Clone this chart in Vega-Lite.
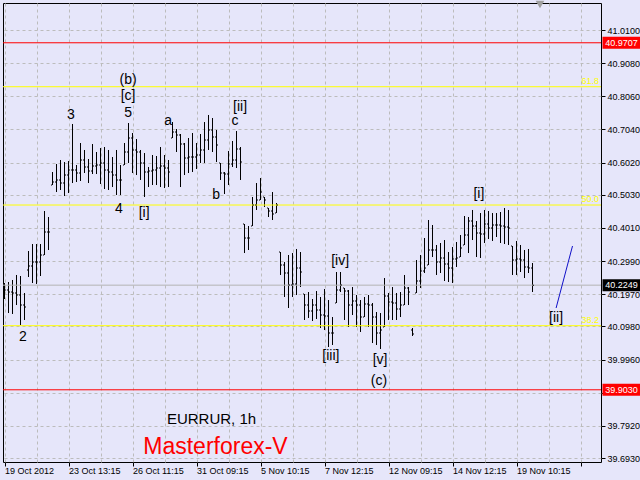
{
  "$schema": "https://vega.github.io/schema/vega-lite/v6.json",
  "width": 598,
  "height": 459,
  "autosize": {"type": "none"},
  "padding": {"left": 3, "top": 3, "right": 39, "bottom": 18},
  "background": "#e6e6fa",
  "config": {
    "view": {"stroke": "#000000", "strokeWidth": 1, "fill": "#e6e6fa"},
    "font": "Liberation Sans",
    "axis": {"labelOverlap": false, "labelFlush": false, "grid": true, "gridColor": "#bcbcbc", "gridDash": [3, 3], "gridWidth": 1, "domain": false, "tickColor": "#000000", "tickSize": 4, "labelFont": "Liberation Sans", "labelFontSize": 9, "labelColor": "#000000"}
  },
  "datasets": {
    "bars": [
      {"i":1,"o":40.2162,"h":40.2315,"l":40.1823,"c":40.2100},
      {"i":2,"o":40.2100,"h":40.2346,"l":40.1392,"c":40.2038},
      {"i":3,"o":40.2038,"h":40.2408,"l":40.1362,"c":40.2008},
      {"i":4,"o":40.2008,"h":40.2562,"l":40.1638,"c":40.1946},
      {"i":5,"o":40.1946,"h":40.2531,"l":40.1023,"c":40.1638},
      {"i":6,"o":40.1638,"h":40.2008,"l":40.1177,"c":40.1577},
      {"i":7,"o":40.2715,"h":40.3300,"l":40.2500,"c":40.2839},
      {"i":8,"o":40.2839,"h":40.3515,"l":40.2315,"c":40.2962},
      {"i":9,"o":40.2962,"h":40.3515,"l":40.2285,"c":40.2962},
      {"i":10,"o":40.2962,"h":40.3515,"l":40.2531,"c":40.3177},
      {"i":11,"o":40.3177,"h":40.4531,"l":40.3177,"c":40.3885},
      {"i":12,"o":40.3885,"h":40.4346,"l":40.3331,"c":40.3885},
      {"i":13,"o":40.5331,"h":40.5731,"l":40.5331,"c":40.5423},
      {"i":14,"o":40.5423,"h":40.5977,"l":40.5115,"c":40.5485},
      {"i":15,"o":40.5485,"h":40.6100,"l":40.5177,"c":40.5392},
      {"i":16,"o":40.5392,"h":40.6038,"l":40.4992,"c":40.5638},
      {"i":17,"o":40.5638,"h":40.6069,"l":40.5085,"c":40.5792},
      {"i":18,"o":40.5792,"h":40.7208,"l":40.5392,"c":40.5792},
      {"i":19,"o":40.5792,"h":40.5946,"l":40.5423,"c":40.5700},
      {"i":20,"o":40.5700,"h":40.6623,"l":40.5454,"c":40.6100},
      {"i":21,"o":40.6100,"h":40.6408,"l":40.5700,"c":40.5885},
      {"i":22,"o":40.5885,"h":40.6131,"l":40.5392,"c":40.5762},
      {"i":23,"o":40.5762,"h":40.6592,"l":40.5669,"c":40.5915},
      {"i":24,"o":40.5915,"h":40.6346,"l":40.5669,"c":40.5946},
      {"i":25,"o":40.5946,"h":40.6469,"l":40.5362,"c":40.6008},
      {"i":26,"o":40.6008,"h":40.6500,"l":40.5208,"c":40.5792},
      {"i":27,"o":40.5792,"h":40.6408,"l":40.5177,"c":40.5731},
      {"i":28,"o":40.5731,"h":40.6192,"l":40.5269,"c":40.5638},
      {"i":29,"o":40.5638,"h":40.6408,"l":40.5023,"c":40.5485},
      {"i":30,"o":40.5485,"h":40.5946,"l":40.5023,"c":40.5485},
      {"i":31,"o":40.5946,"h":40.6623,"l":40.5946,"c":40.6346},
      {"i":32,"o":40.6346,"h":40.7238,"l":40.6008,"c":40.6777},
      {"i":33,"o":40.6777,"h":40.6931,"l":40.5700,"c":40.6408},
      {"i":34,"o":40.6408,"h":40.6746,"l":40.5638,"c":40.6346},
      {"i":35,"o":40.6346,"h":40.6408,"l":40.5485,"c":40.6008},
      {"i":36,"o":40.6008,"h":40.6315,"l":40.4962,"c":40.5731},
      {"i":37,"o":40.5731,"h":40.5885,"l":40.5269,"c":40.5762},
      {"i":38,"o":40.5762,"h":40.6254,"l":40.5331,"c":40.5792},
      {"i":39,"o":40.5792,"h":40.6223,"l":40.5331,"c":40.5854},
      {"i":40,"o":40.5854,"h":40.6500,"l":40.5269,"c":40.5915},
      {"i":41,"o":40.5915,"h":40.6254,"l":40.5238,"c":40.5854},
      {"i":42,"o":40.5854,"h":40.6100,"l":40.5269,"c":40.5731},
      {"i":43,"o":40.6777,"h":40.7269,"l":40.6777,"c":40.6962},
      {"i":44,"o":40.6962,"h":40.7054,"l":40.6346,"c":40.6869},
      {"i":45,"o":40.6869,"h":40.6900,"l":40.5269,"c":40.6592},
      {"i":46,"o":40.6592,"h":40.6623,"l":40.5638,"c":40.6162},
      {"i":47,"o":40.6162,"h":40.6777,"l":40.5700,"c":40.6192},
      {"i":48,"o":40.6192,"h":40.6931,"l":40.5731,"c":40.6192},
      {"i":49,"o":40.6192,"h":40.6623,"l":40.5823,"c":40.6254},
      {"i":50,"o":40.6254,"h":40.6900,"l":40.6008,"c":40.6408},
      {"i":51,"o":40.6408,"h":40.7269,"l":40.6008,"c":40.6715},
      {"i":52,"o":40.6715,"h":40.7485,"l":40.6408,"c":40.7023},
      {"i":53,"o":40.7023,"h":40.7392,"l":40.6346,"c":40.6808},
      {"i":54,"o":40.6808,"h":40.7023,"l":40.6038,"c":40.6562},
      {"i":55,"o":40.6008,"h":40.6008,"l":40.5485,"c":40.5700},
      {"i":56,"o":40.5700,"h":40.5731,"l":40.5054,"c":40.5669},
      {"i":57,"o":40.5669,"h":40.6377,"l":40.5331,"c":40.5977},
      {"i":58,"o":40.5977,"h":40.6685,"l":40.5885,"c":40.6100},
      {"i":59,"o":40.6100,"h":40.6992,"l":40.5854,"c":40.6438},
      {"i":60,"o":40.6438,"h":40.6500,"l":40.5485,"c":40.6038},
      {"i":61,"o":40.4131,"h":40.4131,"l":40.3238,"c":40.3700},
      {"i":62,"o":40.3700,"h":40.4069,"l":40.3331,"c":40.3700},
      {"i":63,"o":40.4069,"h":40.4962,"l":40.4069,"c":40.4715},
      {"i":64,"o":40.4715,"h":40.5392,"l":40.4562,"c":40.4869},
      {"i":65,"o":40.4869,"h":40.5546,"l":40.4869,"c":40.5115},
      {"i":66,"o":40.4962,"h":40.4962,"l":40.4654,"c":40.4869},
      {"i":67,"o":40.4623,"h":40.4623,"l":40.4346,"c":40.4531},
      {"i":68,"o":40.4531,"h":40.5115,"l":40.4254,"c":40.4438},
      {"i":69,"o":40.4469,"h":40.4777,"l":40.4469,"c":40.4715},
      {"i":70,"o":40.3269,"h":40.3269,"l":40.2562,"c":40.2869},
      {"i":71,"o":40.2869,"h":40.2962,"l":40.1885,"c":40.2623},
      {"i":72,"o":40.2623,"h":40.3177,"l":40.1546,"c":40.2254},
      {"i":73,"o":40.2254,"h":40.3238,"l":40.1885,"c":40.2285},
      {"i":74,"o":40.2285,"h":40.3362,"l":40.1946,"c":40.2777},
      {"i":75,"o":40.2777,"h":40.3269,"l":40.2192,"c":40.2654},
      {"i":76,"o":40.1977,"h":40.1977,"l":40.1177,"c":40.1638},
      {"i":77,"o":40.1638,"h":40.2038,"l":40.1239,"c":40.1454},
      {"i":78,"o":40.1454,"h":40.1823,"l":40.1146,"c":40.1638},
      {"i":79,"o":40.1638,"h":40.2069,"l":40.1208,"c":40.1485},
      {"i":80,"o":40.1485,"h":40.1885,"l":40.0931,"c":40.1331},
      {"i":81,"o":40.1331,"h":40.2131,"l":40.0869,"c":40.1300},
      {"i":82,"o":40.1300,"h":40.1792,"l":40.0346,"c":40.0777},
      {"i":83,"o":40.0777,"h":40.1269,"l":40.0408,"c":40.0777},
      {"i":84,"o":40.1700,"h":40.2654,"l":40.1700,"c":40.2100},
      {"i":85,"o":40.2100,"h":40.2654,"l":40.2038,"c":40.2254},
      {"i":86,"o":40.2162,"h":40.2162,"l":40.1177,"c":40.2069},
      {"i":87,"o":40.2069,"h":40.2100,"l":40.0962,"c":40.1638},
      {"i":88,"o":40.1638,"h":40.2192,"l":40.1331,"c":40.1762},
      {"i":89,"o":40.1762,"h":40.1946,"l":40.0962,"c":40.1638},
      {"i":90,"o":40.1638,"h":40.1792,"l":40.0808,"c":40.1269},
      {"i":91,"o":40.1269,"h":40.1885,"l":40.1269,"c":40.1669},
      {"i":92,"o":40.1669,"h":40.1946,"l":40.0962,"c":40.1638},
      {"i":93,"o":40.1638,"h":40.1700,"l":40.0469,"c":40.1269},
      {"i":94,"o":40.1269,"h":40.1423,"l":40.0408,"c":40.0777},
      {"i":95,"o":40.0777,"h":40.1392,"l":40.0285,"c":40.0869},
      {"i":96,"o":40.0962,"h":40.2469,"l":40.0962,"c":40.1915},
      {"i":97,"o":40.1915,"h":40.2008,"l":40.1177,"c":40.1731},
      {"i":98,"o":40.1731,"h":40.2192,"l":40.1177,"c":40.1700},
      {"i":99,"o":40.1700,"h":40.2008,"l":40.1177,"c":40.1515},
      {"i":100,"o":40.1515,"h":40.2038,"l":40.1269,"c":40.1638},
      {"i":101,"o":40.1638,"h":40.2562,"l":40.1638,"c":40.2162},
      {"i":102,"o":40.2162,"h":40.2192,"l":40.1638,"c":40.2038},
      {"i":103,"o":40.0869,"h":40.0931,"l":40.0685,"c":40.0746},
      {"i":104,"o":40.2008,"h":40.3023,"l":40.2008,"c":40.2377},
      {"i":105,"o":40.2377,"h":40.3177,"l":40.2162,"c":40.2685},
      {"i":106,"o":40.2685,"h":40.3700,"l":40.2623,"c":40.2777},
      {"i":107,"o":40.2869,"h":40.4254,"l":40.2869,"c":40.3331},
      {"i":108,"o":40.3331,"h":40.4100,"l":40.3115,"c":40.3331},
      {"i":109,"o":40.3331,"h":40.3485,"l":40.2562,"c":40.2962},
      {"i":110,"o":40.2962,"h":40.3546,"l":40.2623,"c":40.3085},
      {"i":111,"o":40.3085,"h":40.3638,"l":40.2377,"c":40.2900},
      {"i":112,"o":40.2900,"h":40.3269,"l":40.2346,"c":40.2777},
      {"i":113,"o":40.2777,"h":40.3423,"l":40.2315,"c":40.3054},
      {"i":114,"o":40.3054,"h":40.3577,"l":40.2808,"c":40.3085},
      {"i":115,"o":40.3115,"h":40.3792,"l":40.3115,"c":40.3392},
      {"i":116,"o":40.3485,"h":40.4377,"l":40.3485,"c":40.3792},
      {"i":117,"o":40.3792,"h":40.4346,"l":40.3238,"c":40.4223},
      {"i":118,"o":40.4223,"h":40.4562,"l":40.3638,"c":40.4069},
      {"i":119,"o":40.4069,"h":40.4223,"l":40.3115,"c":40.3854},
      {"i":120,"o":40.3854,"h":40.4469,"l":40.3085,"c":40.3823},
      {"i":121,"o":40.3823,"h":40.4562,"l":40.3546,"c":40.4131},
      {"i":122,"o":40.4131,"h":40.4531,"l":40.3669,"c":40.4008},
      {"i":123,"o":40.4008,"h":40.4469,"l":40.3608,"c":40.4100},
      {"i":124,"o":40.4100,"h":40.4469,"l":40.3731,"c":40.4100},
      {"i":125,"o":40.4100,"h":40.4500,"l":40.3546,"c":40.4069},
      {"i":126,"o":40.4069,"h":40.4623,"l":40.3515,"c":40.4038},
      {"i":127,"o":40.4038,"h":40.4562,"l":40.3485,"c":40.4008},
      {"i":128,"o":40.3454,"h":40.3454,"l":40.2562,"c":40.3023},
      {"i":129,"o":40.3023,"h":40.3608,"l":40.2562,"c":40.3054},
      {"i":130,"o":40.3054,"h":40.3485,"l":40.2654,"c":40.3023},
      {"i":131,"o":40.3023,"h":40.3331,"l":40.2469,"c":40.2808},
      {"i":132,"o":40.2808,"h":40.3362,"l":40.2623,"c":40.2777},
      {"i":133,"o":40.2777,"h":40.2931,"l":40.2038,"c":40.2249}
    ],
    "levels": [
      {"kind": "stop", "p": 40.9707},
      {"kind": "stop", "p": 39.9030},
      {"kind": "fib", "p": 40.8355, "label": "61.8"},
      {"kind": "fib", "p": 40.4715, "label": "50.0"},
      {"kind": "fib", "p": 40.1002, "label": "38.2"},
      {"kind": "last", "p": 40.2249}
    ],
    "waves": [
      {"t": "(b)", "i": 31.9, "p": 40.8562},
      {"t": "[c]", "i": 31.9, "p": 40.8069},
      {"t": "5", "i": 31.9, "p": 40.7546},
      {"t": "3", "i": 17.6, "p": 40.7485},
      {"t": "4", "i": 29.6, "p": 40.4592},
      {"t": "[i]", "i": 35.9, "p": 40.4469},
      {"t": "a", "i": 41.9, "p": 40.7300},
      {"t": "b", "i": 53.9, "p": 40.5023},
      {"t": "c", "i": 58.6, "p": 40.7300},
      {"t": "[ii]", "i": 59.9, "p": 40.7731},
      {"t": "2", "i": 5.6, "p": 40.0654},
      {"t": "[iii]", "i": 82.6, "p": 40.0069},
      {"t": "[iv]", "i": 84.9, "p": 40.2992},
      {"t": "[v]", "i": 94.9, "p": 39.9946},
      {"t": "(c)", "i": 94.6, "p": 39.9300},
      {"t": "[i]", "i": 119.6, "p": 40.5054},
      {"t": "[ii]", "i": 138.9, "p": 40.1239}
    ],
    "proj": [
      {"i": 138.9, "p": 40.1546},
      {"i": 143.0, "p": 40.3454}
    ]
  },
  "layer": [
    {
      "data": {"name": "bars"},
      "mark": {"type": "rule", "color": "#000000", "strokeWidth": 1},
      "encoding": {
        "x": {"field": "i", "type": "quantitative", "scale": {"domain": [0.625, 150.125], "nice": false, "zero": false},
          "axis": {"orient": "bottom", "values": [1, 9, 17, 25, 33, 41, 49, 57, 65, 73, 81, 89, 97, 105, 113, 121, 129, 137, 145],
            "tickCount": 100, "title": null, "labelOverlap": false, "labelFlush": false,
            "tickOpacity": {"condition": {"test": "(datum.value - 1) % 16 === 0", "value": 1}, "value": 0},
            "labelExpr": "(datum.value - 1) % 16 === 0 ? ['19 Oct 2012','23 Oct 13:15','26 Oct 11:15','31 Oct 09:15','5 Nov 10:15','7 Nov 12:15','12 Nov 09:15','14 Nov 12:15','19 Nov 10:15',''][(datum.value - 1) / 16] : ''",
            "labelAlign": "left", "labelBaseline": "top", "labelPadding": 0}},
        "y": {"field": "l", "type": "quantitative", "scale": {"domain": [39.6808, 41.0931], "nice": false, "zero": false},
          "axis": {"orient": "right", "values": [41.01, 40.908, 40.806, 40.704, 40.602, 40.503, 40.401, 40.299, 40.197, 40.098, 39.996, 39.894, 39.792, 39.693],
            "tickCount": 100, "format": ".4f", "title": null, "labelOverlap": false, "labelFlush": false,
            "labelExpr": "abs(datum.value - 39.894) < 0.0001 ? '' : format(datum.value, '.4f')",
            "labelPadding": 2, "labelBaseline": "middle"}},
        "y2": {"field": "h"}
      }
    },
    {
      "data": {"name": "levels"},
      "transform": [{"filter": "datum.kind === 'last'"}],
      "mark": {"type": "rule", "color": "#b4b4b4", "strokeWidth": 1},
      "encoding": {
        "y": {"field": "p", "type": "quantitative", "axis": {"title": null, "labelOverlap": false}}
      }
    },
    {
      "data": {"name": "levels"},
      "transform": [{"filter": "datum.kind === 'fib'"}],
      "mark": {"type": "rule", "color": "#ffff00", "strokeWidth": 1},
      "encoding": {
        "y": {"field": "p", "type": "quantitative", "axis": {"title": null, "labelOverlap": false}}
      }
    },
    {
      "data": {"name": "levels"},
      "transform": [{"filter": "datum.kind === 'stop'"}],
      "mark": {"type": "rule", "color": "#ff0000", "strokeWidth": 1},
      "encoding": {
        "y": {"field": "p", "type": "quantitative", "axis": {"title": null, "labelOverlap": false}}
      }
    },
    {
      "data": {"name": "levels"},
      "transform": [{"filter": "datum.kind === 'fib'"}],
      "mark": {"type": "text", "color": "#ffff00", "font": "Liberation Sans", "fontSize": 9, "align": "right", "baseline": "bottom", "dx": -2, "dy": -1},
      "encoding": {
        "x": {"value": "width"},
        "y": {"field": "p", "type": "quantitative", "axis": {"title": null, "labelOverlap": false}},
        "text": {"field": "label"}
      }
    },
    {
      "data": {"name": "bars"},
      "mark": {"type": "tick", "orient": "horizontal", "size": 1, "thickness": 1, "xOffset": -1, "color": "#000000", "opacity": 1},
      "encoding": {
        "x": {"field": "i", "type": "quantitative", "axis": {"title": null, "labelOverlap": false}},
        "y": {"field": "o", "type": "quantitative", "axis": {"title": null, "labelOverlap": false}}
      }
    },
    {
      "data": {"name": "bars"},
      "mark": {"type": "tick", "orient": "horizontal", "size": 1, "thickness": 1, "xOffset": 1, "color": "#000000", "opacity": 1},
      "encoding": {
        "x": {"field": "i", "type": "quantitative", "axis": {"title": null, "labelOverlap": false}},
        "y": {"field": "c", "type": "quantitative", "axis": {"title": null, "labelOverlap": false}}
      }
    },
    {
      "data": {"name": "proj"},
      "mark": {"type": "line", "color": "#1010c8", "strokeWidth": 1},
      "encoding": {
        "x": {"field": "i", "type": "quantitative", "axis": {"title": null, "labelOverlap": false}},
        "y": {"field": "p", "type": "quantitative", "axis": {"title": null, "labelOverlap": false}}
      }
    },
    {
      "data": {"name": "waves"},
      "mark": {"type": "text", "color": "#000000", "font": "Liberation Sans", "fontSize": 14, "align": "center", "baseline": "middle"},
      "encoding": {
        "x": {"field": "i", "type": "quantitative", "axis": {"title": null, "labelOverlap": false}},
        "y": {"field": "p", "type": "quantitative", "axis": {"title": null, "labelOverlap": false}},
        "text": {"field": "t"}
      }
    },
    {
      "data": {"values": [{"t": "EURRUR, 1h", "i": 52.75, "p": 39.7977}]},
      "mark": {"type": "text", "color": "#000000", "font": "Liberation Sans", "fontSize": 15, "align": "center", "baseline": "alphabetic"},
      "encoding": {
        "x": {"field": "i", "type": "quantitative", "axis": {"title": null, "labelOverlap": false}},
        "y": {"field": "p", "type": "quantitative", "axis": {"title": null, "labelOverlap": false}},
        "text": {"field": "t"}
      }
    },
    {
      "data": {"values": [{"t": "Masterforex-V", "i": 53.75, "p": 39.7045}]},
      "mark": {"type": "text", "color": "#ff0000", "font": "Liberation Sans", "fontSize": 23, "align": "center", "baseline": "alphabetic"},
      "encoding": {
        "x": {"field": "i", "type": "quantitative", "axis": {"title": null, "labelOverlap": false}},
        "y": {"field": "p", "type": "quantitative", "axis": {"title": null, "labelOverlap": false}},
        "text": {"field": "t"}
      }
    },
    {
      "data": {"values": [{"i": 134.875, "p": 41.0885}]},
      "mark": {"type": "point", "shape": "triangle-down", "filled": true, "color": "#a0a0a0", "size": 75, "opacity": 1},
      "encoding": {
        "x": {"field": "i", "type": "quantitative", "axis": {"title": null, "labelOverlap": false}},
        "y": {"field": "p", "type": "quantitative", "axis": {"title": null, "labelOverlap": false}}
      }
    },
    {
      "data": {"name": "levels"},
      "transform": [{"filter": "datum.kind === 'stop'"}],
      "mark": {"type": "tick", "orient": "horizontal", "size": 38, "thickness": 12, "xOffset": 20.5, "color": "#ff0000", "opacity": 1},
      "encoding": {
        "x": {"value": "width"},
        "y": {"field": "p", "type": "quantitative", "axis": {"title": null, "labelOverlap": false}}
      }
    },
    {
      "data": {"name": "levels"},
      "transform": [{"filter": "datum.kind === 'last'"}],
      "mark": {"type": "tick", "orient": "horizontal", "size": 38, "thickness": 12, "xOffset": 20.5, "color": "#000000", "opacity": 1},
      "encoding": {
        "x": {"value": "width"},
        "y": {"field": "p", "type": "quantitative", "axis": {"title": null, "labelOverlap": false}}
      }
    },
    {
      "data": {"name": "levels"},
      "transform": [{"filter": "datum.kind !== 'fib'"}],
      "mark": {"type": "text", "color": "#ffffff", "font": "Liberation Sans", "fontSize": 9, "align": "center", "baseline": "middle", "dx": 20.5},
      "encoding": {
        "x": {"value": "width"},
        "y": {"field": "p", "type": "quantitative", "axis": {"title": null, "labelOverlap": false}},
        "text": {"field": "p", "type": "quantitative", "format": ".4f"}
      }
    }
  ]
}
